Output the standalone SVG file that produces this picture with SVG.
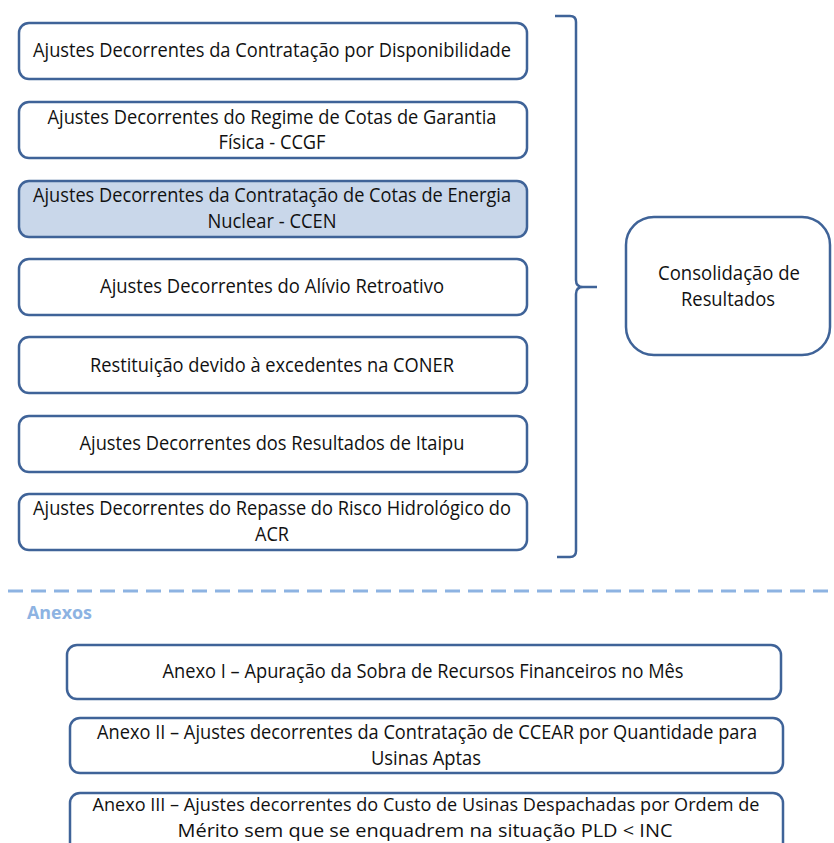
<svg xmlns="http://www.w3.org/2000/svg" width="834" height="843" viewBox="0 0 834 843">
<style>
.box{fill:#ffffff;stroke:#3f6398;stroke-width:2.5}
.hl{fill:#c9d7ea}
.t{font-family:"Open Sans","Liberation Sans",sans-serif;font-size:19.5px;fill:#111111;text-anchor:middle}
.a{font-family:"Open Sans","Liberation Sans",sans-serif;font-size:20px;fill:#111111;text-anchor:middle}
.a3{font-size:18.5px}
.brace{fill:none;stroke:#3f6398;stroke-width:2.5}
</style>
<rect width="834" height="843" fill="#ffffff"/>
<g id="n1"><rect class="box" x="19" y="23" width="508" height="56" rx="10"/>
<text class="t" x="272" y="57" textLength="478" lengthAdjust="spacingAndGlyphs">Ajustes Decorrentes da Contratação por Disponibilidade</text></g>
<g id="n2"><rect class="box" x="19" y="102" width="508" height="56" rx="10"/>
<text class="t" x="272" y="124" textLength="449" lengthAdjust="spacingAndGlyphs">Ajustes Decorrentes do Regime de Cotas de Garantia</text>
<text class="t" x="272" y="149" textLength="107" lengthAdjust="spacingAndGlyphs">Física - CCGF</text></g>
<g id="n3"><rect class="box hl" x="19" y="181" width="508" height="56" rx="10"/>
<text class="t" x="272" y="202" textLength="478" lengthAdjust="spacingAndGlyphs">Ajustes Decorrentes da Contratação de Cotas de Energia</text>
<text class="t" x="272" y="228" textLength="129" lengthAdjust="spacingAndGlyphs">Nuclear - CCEN</text></g>
<g id="n4"><rect class="box" x="19" y="259" width="508" height="56" rx="10"/>
<text class="t" x="272" y="293" textLength="344" lengthAdjust="spacingAndGlyphs">Ajustes Decorrentes do Alívio Retroativo</text></g>
<g id="n5"><rect class="box" x="19" y="337" width="508" height="56" rx="10"/>
<text class="t" x="272" y="372" textLength="364" lengthAdjust="spacingAndGlyphs">Restituição devido à excedentes na CONER</text></g>
<g id="n6"><rect class="box" x="19" y="416" width="508" height="56" rx="10"/>
<text class="t" x="272" y="450" textLength="385" lengthAdjust="spacingAndGlyphs">Ajustes Decorrentes dos Resultados de Itaipu</text></g>
<g id="n7"><rect class="box" x="19" y="494" width="508" height="56" rx="10"/>
<text class="t" x="272" y="515" textLength="478" lengthAdjust="spacingAndGlyphs">Ajustes Decorrentes do Repasse do Risco Hidrológico do</text>
<text class="t" x="272" y="541" textLength="34" lengthAdjust="spacingAndGlyphs">ACR</text></g>
<g id="connectors">
<path class="brace" d="M555,16 H570 Q576,16 576,22 V280 Q576,287 583,287 H597 M583,287 Q576,287 576,294 V551 Q576,557 570,557 H557"/>
</g>
<g id="consolidacao"><rect class="box" x="626" y="217" width="204" height="138" rx="28"/>
<text class="t" x="729" y="280" textLength="142" lengthAdjust="spacingAndGlyphs">Consolidação de</text>
<text class="t" x="728" y="306" textLength="94" lengthAdjust="spacingAndGlyphs">Resultados</text></g>
<g id="separator"><line x1="8" y1="591" x2="834" y2="591" stroke="#8db3e2" stroke-width="3.2" stroke-dasharray="15 8"/></g>
<g id="anexos-label"><text x="27" y="619" font-family="Open Sans, Liberation Sans, sans-serif" font-size="17" font-weight="bold" fill="#8db3e2" textLength="65" lengthAdjust="spacingAndGlyphs">Anexos</text></g>
<g id="a1"><rect class="box" x="67" y="645" width="714" height="54" rx="10"/>
<text class="a" x="423" y="678" textLength="521" lengthAdjust="spacingAndGlyphs">Anexo I – Apuração da Sobra de Recursos Financeiros no Mês</text></g>
<g id="a2"><rect class="box" x="70" y="718" width="713" height="55" rx="10"/>
<text class="a" x="427" y="739" textLength="660" lengthAdjust="spacingAndGlyphs">Anexo II – Ajustes decorrentes da Contratação de CCEAR por Quantidade para</text>
<text class="a" x="426" y="765" textLength="110" lengthAdjust="spacingAndGlyphs">Usinas Aptas</text></g>
<g id="a3"><rect class="box" x="70" y="793" width="713" height="62" rx="10"/>
<text class="a a3" x="426" y="811" textLength="667" lengthAdjust="spacingAndGlyphs">Anexo III – Ajustes decorrentes do Custo de Usinas Despachadas por Ordem de</text>
<text class="a a3" x="425" y="837" textLength="495" lengthAdjust="spacingAndGlyphs">Mérito sem que se enquadrem na situação PLD &lt; INC</text></g>
</svg>
